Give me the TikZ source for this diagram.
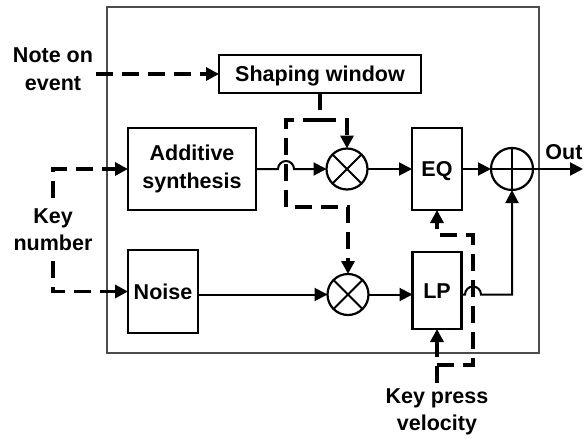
\documentclass[tikz,border=0pt]{standalone}
\usepackage{fontspec}
\setmainfont{Liberation Sans}
\usetikzlibrary{arrows.meta}
\begin{document}
\begin{tikzpicture}[x=1pt,y=-1pt,
  every node/.style={font=\fontsize{21.5}{27.5}\selectfont\bfseries, inner sep=0pt, outer sep=0pt},
  blk/.style={draw, line width=2.2pt, rectangle, text height=15.4pt, text depth=0pt},
  blktwo/.style={draw, line width=2.2pt, rectangle, align=center},
  lbl/.style={align=center},
  mix/.style={draw, circle, line width=2.2pt, minimum size=41pt,
    path picture={\draw[line width=2pt] (path picture bounding box.north west)--(path picture bounding box.south east)
      (path picture bounding box.north east)--(path picture bounding box.south west);}},
  adder/.style={draw, circle, line width=2.2pt, minimum size=42pt,
    path picture={\draw[line width=2pt] (path picture bounding box.north)--(path picture bounding box.south)
      (path picture bounding box.west)--(path picture bounding box.east);}},
  tip/.style={-{Triangle[length=13pt,width=13pt]}},
  sig/.style={line width=2pt, tip},
  dsh/.style={line width=3.4pt, dash pattern=on 17pt off 9pt, tip},
]
\useasboundingbox (0,0) rectangle (584,439);
\draw[black!70, line width=1.3pt] (107,7) rectangle (539,353);

% blocks
\node[blk, minimum width=202pt, minimum height=38pt] (shaping) at (320,74) {Shaping window};
\node[blktwo, minimum width=128pt, minimum height=82pt] (addsyn) at (192,169) {Additive\\synthesis};
\node[blk, minimum width=70pt, minimum height=83pt] (noise) at (163,291.5) {Noise};
\node[blk, minimum width=50pt, minimum height=82pt] (eq) at (437,169) {EQ};
\node[blk, minimum width=49pt, minimum height=77pt] (lp) at (437,290.5) {LP};
\node[mix] (m1) at (347,169) {};
\node[mix] (m2) at (348,294.5) {};
\node[adder] (sum) at (512,169) {};

% labels
\node[lbl] (noteon) at (53,69) {Note on\\event};
\node[lbl] (keynum) at (53,229.5) {Key\\number};
\node[lbl] (kpv) at (437,412) {Key press\\velocity};
\node[anchor=base] (out) at (564,159) {Out};

% coordinates
\coordinate (sj) at (320,120);
\coordinate (lc) at (286,120);
\coordinate (lb) at (286,207);
\coordinate (kj) at (437,365);
\coordinate (kr) at (473,365);
\coordinate (kt) at (473,235);
\coordinate (outc) at (583,169);

% dashed control lines
\draw[dsh] ([xshift=3pt]noteon.east |- shaping.west) -- (shaping.west);
\draw[dsh] ([yshift=10pt]keynum.north) |- (addsyn.west);
\draw[dsh] ([yshift=-10pt]keynum.south) |- (noise.west);
\draw[dsh] (shaping.south) -- (sj) -| (m1.north);
\draw[dsh] (sj) -- (lc) -- (lb) -| (m2.north);
\draw[dsh] ([yshift=6pt]kpv.north) -- (lp.south);
\draw[dsh] (kj) -- (kr) -- (kt) -| (eq.south);

% signal lines
\draw[sig] (addsyn.east) -- ([xshift=-8pt]lc |- addsyn.east) arc[start angle=180, end angle=360, radius=8] -- (m1.west);
\draw[sig] (m1.east) -- (eq.west |- m1.east);
\draw[sig] (eq.east |- sum.west) -- (sum.west);
\draw[sig] (sum.east) -- (outc);
\draw[sig] (noise.east |- m2.west) -- (m2.west);
\draw[sig] (m2.east) -- (lp.west |- m2.east);
\draw[sig] (lp.east |- m2.east) -- ([xshift=-8pt]kr |- m2.east) arc[start angle=180, end angle=360, radius=8] -| (sum.south);
\end{tikzpicture}
\end{document}
